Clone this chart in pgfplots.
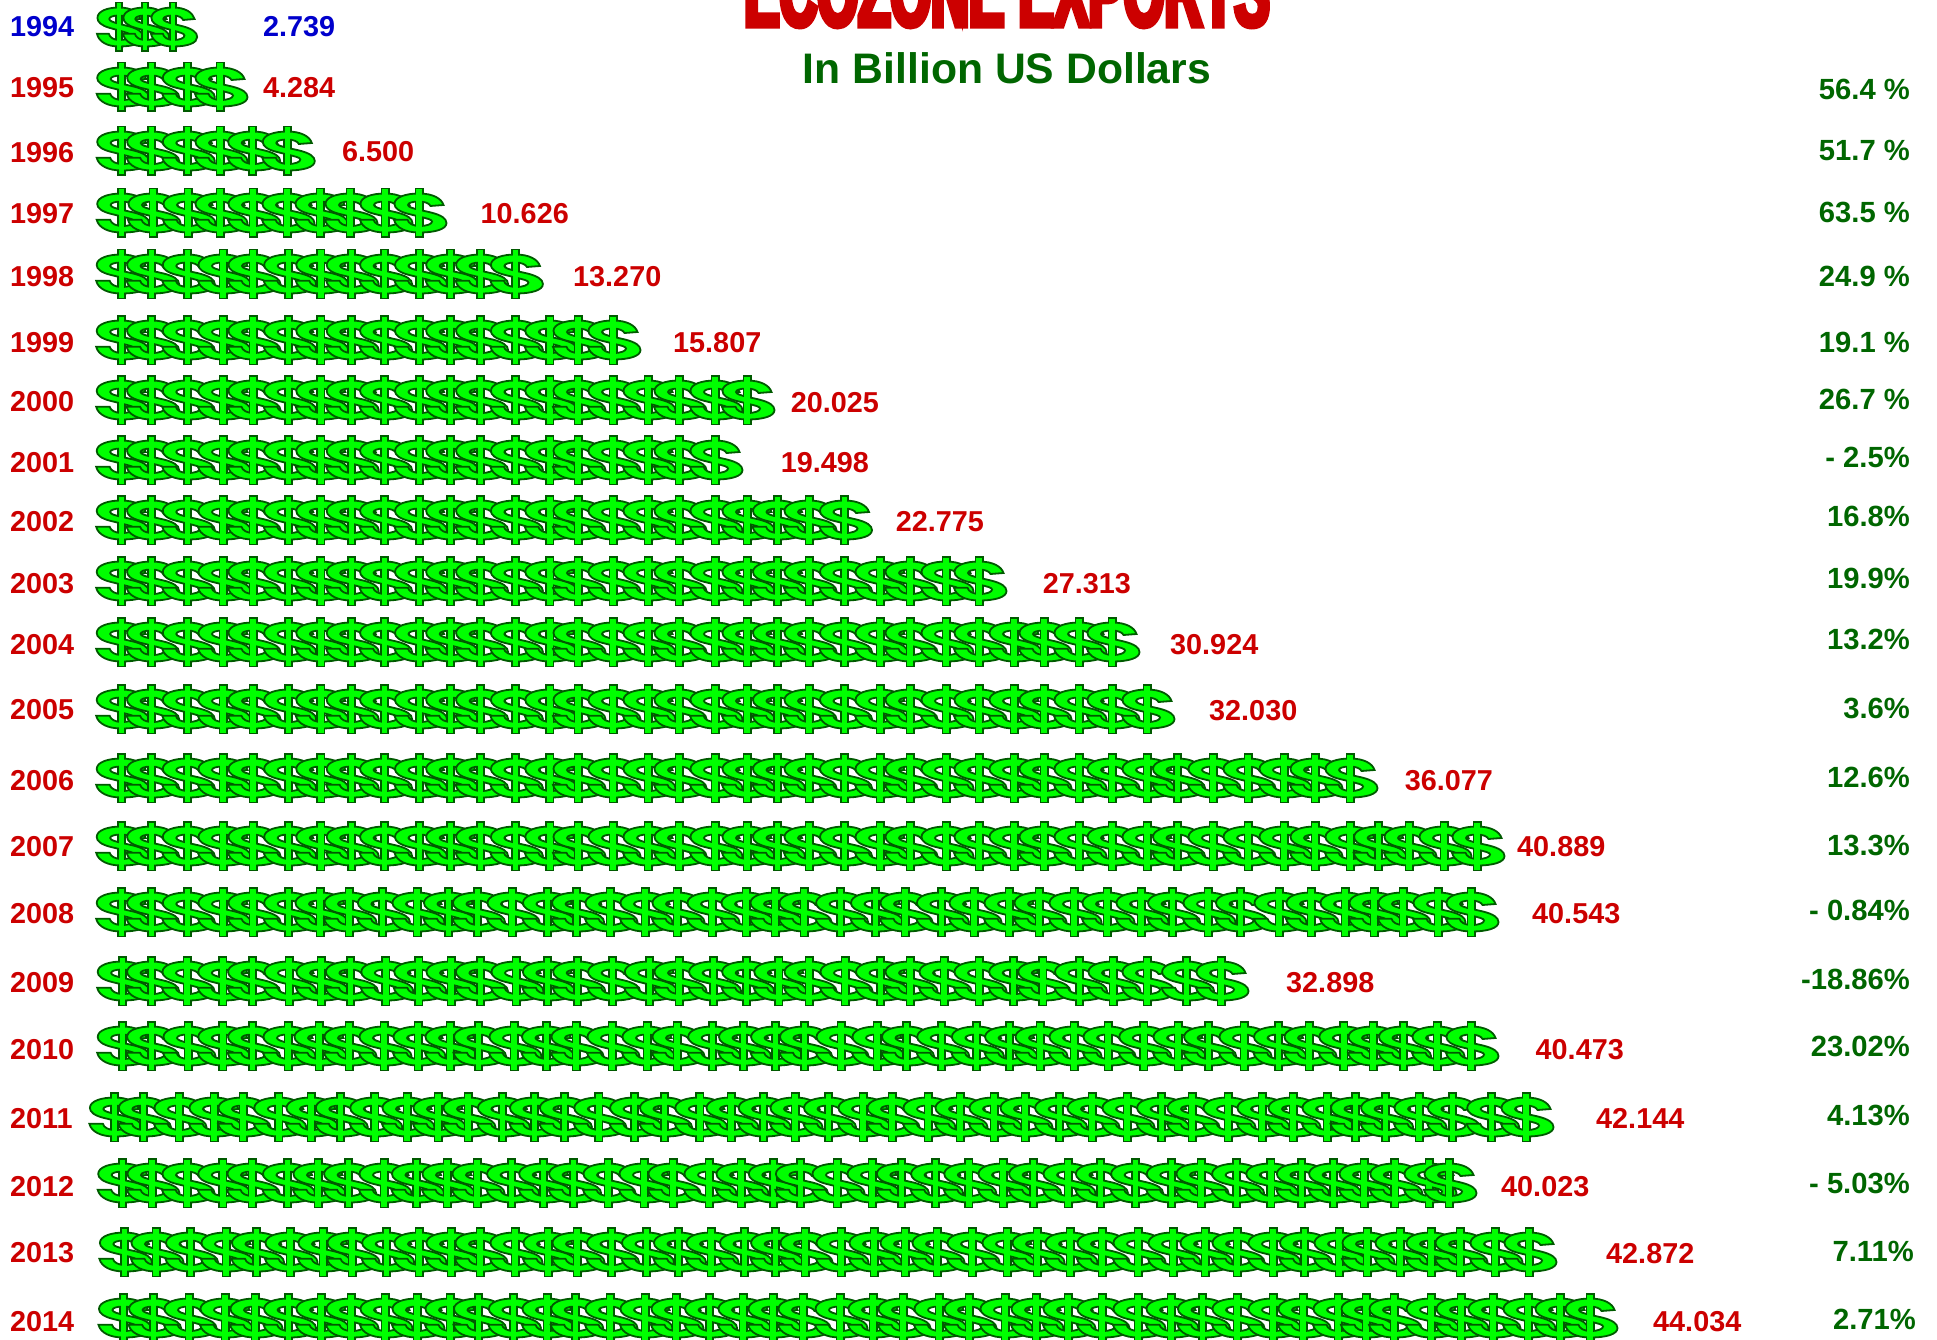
\documentclass[border=0pt]{standalone}
\usepackage{fontspec}
\usepackage{pgfplots}
\pgfplotsset{compat=1.18}
\setmainfont{Liberation Sans}
\newfontfamily\titlefont[FakeBold=5,FakeStretch=0.525]{Liberation Sans Bold}
\definecolor{rd}{RGB}{204,0,0}
\definecolor{bl}{RGB}{0,0,204}
\definecolor{dg}{RGB}{0,102,0}
\definecolor{og}{RGB}{0,90,0}
\definecolor{lg}{RGB}{0,255,0}
\def\dM(#1,#2){\pgfpathmoveto{\pgfqpoint{#1pt}{#2pt}}}
\def\dL(#1,#2){\pgfpathlineto{\pgfqpoint{#1pt}{#2pt}}}
\def\dC(#1,#2)(#3,#4)(#5,#6){\pgfpathcurveto{\pgfqpoint{#1pt}{#2pt}}{\pgfqpoint{#3pt}{#4pt}}{\pgfqpoint{#5pt}{#6pt}}}
\pgfdeclareplotmark{dollar}{%
  \pgfpathrectangle{\pgfqpoint{-3.6pt}{-24.4pt}}{\pgfqpoint{7.2pt}{48.8pt}}%
  \pgfusepathqfillstroke
  \dM(0,19.5)
  \dC(14,19.5)(22.5,14.5)(24.5,8)
  \dL(11.5,7)
  \dC(10.5,9.5)(6,11.5)(0,11.5)
  \dC(-7,11.5)(-11,10)(-11,8)
  \dC(-11,6)(-6,4.5)(1,3)
  \dL(12,0.5)
  \dC(22,-2)(27.5,-5.5)(27.5,-10)
  \dC(27.5,-16)(17,-19.5)(0,-19.5)
  \dC(-13,-19.5)(-23,-15)(-25,-6.8)
  \dL(-11.5,-6.8)
  \dC(-10.5,-10.5)(-6,-13)(0.5,-13)
  \dC(8,-13)(13,-11)(13,-8.5)
  \dC(13,-6.5)(8,-5.5)(0,-3.5)
  \dL(-11,-0.8)
  \dC(-20,1.5)(-24.5,5)(-24.5,9)
  \dC(-24.5,16)(-13,19.5)(0,19.5)
  \pgfpathclose
  \pgfusepathqfillstroke
  \pgfpathrectangle{\pgfqpoint{-2.7pt}{-23.5pt}}{\pgfqpoint{5.4pt}{47pt}}%
  \pgfusepathqfill
}
\pgfplotsset{dollars/.style={only marks,mark=dollar,
  mark options={draw=og,fill=lg,line width=1.8pt,solid}}}
\newcommand\yr[3][rd]{\node[anchor=base west,inner sep=0pt,text=#1,font=\fontsize{28.8}{30}\selectfont\bfseries] at (axis cs:10,#3) {#2};}
\newcommand\val[4][rd]{\node[anchor=base west,inner sep=0pt,text=#1,font=\fontsize{28.8}{30}\selectfont\bfseries] at (axis cs:#3,#4) {#2};}
\newcommand\pc[3][1910]{\node[anchor=base east,inner sep=0pt,text=dg,font=\fontsize{29.2}{30}\selectfont\bfseries] at (axis cs:#1,#3) {#2};}
\begin{document}
\begin{tikzpicture}[x=1pt,y=1pt]
\useasboundingbox (0,0) rectangle (1937,1340);
\clip (0,0) rectangle (1937,1340);
\begin{axis}[at={(0,0)},anchor=south west,width=1937pt,height=1340pt,scale only axis,
  xmin=0,xmax=1937,ymin=0,ymax=1340,y dir=reverse,hide axis,clip=false]
% 1994
\addplot[dollars,mark options={draw=og,fill=lg,line width=1.8pt,solid,xscale=0.88}] coordinates {(119,27)(145,27)(173,27)};
% 1995
\addplot[dollars] coordinates {(121.7,87)(151.7,87)(187.3,87)(220,87)};
% 1996
\addplot[dollars] coordinates {(121.7,151)(151.7,151)(187.3,151)(220,151)(252.7,151)(287.3,151)};
% 1997
\addplot[dollars] coordinates {(121.7,213)(153,213)(188,213)(220,213)(253,213)(287,213)(320,213)(350,213)(385,213)(419,213)};
% 1998
\addplot[dollars] coordinates {(121.2,274)(151.6,274)(187.3,274)(223,274)(253,274)(288.7,274)(320.8,274)(351.2,274)(384.6,274)(419.5,274)(450.7,274)(480.6,274)(515.4,274)};
% 1999
\addplot[dollars] coordinates {(121.2,340)(151.6,340)(187.3,340)(223,340)(253,340)(288.7,340)(320.8,340)(351.2,340)(384.6,340)(419.5,340)(450.7,340)(480.6,340)(515.4,340)(549.8,340)(578,340)(613,340)};
% 2000
\addplot[dollars] coordinates {(121.2,400)(151.6,400)(187.3,400)(223,400)(253,400)(288.7,400)(320.8,400)(351.2,400)(384.6,400)(419.5,400)(450.7,400)(480.6,400)(515.4,400)(549.8,400)(578,400)(613,400)(648,400)(679,400)(715,400)(747,400)};
% 2001
\addplot[dollars] coordinates {(121.2,460)(151.6,460)(187.3,460)(223,460)(253,460)(288.7,460)(320.8,460)(351.2,460)(384.6,460)(419.5,460)(450.7,460)(480.6,460)(515.4,460)(549.8,460)(578,460)(613,460)(648,460)(679,460)(715,460)};
% 2002
\addplot[dollars] coordinates {(121.2,520)(151.6,520)(187.3,520)(223,520)(253,520)(288.7,520)(320.8,520)(351.2,520)(384.6,520)(419.5,520)(450.7,520)(480.6,520)(515.4,520)(549.8,520)(578,520)(613,520)(648,520)(679,520)(715,520)(747,520)(777.5,520)(809,520)(844.5,520)};
% 2003
\addplot[dollars] coordinates {(121.2,581)(151.6,581)(187.3,581)(223,581)(253,581)(288.7,581)(320.8,581)(351.2,581)(384.6,581)(419.5,581)(450.7,581)(480.6,581)(515.4,581)(549.8,581)(578,581)(613,581)(648,581)(679,581)(715,581)(747,581)(777.5,581)(809,581)(844.5,581)(880,581)(910,581)(946,581)(979,581)};
% 2004
\addplot[dollars] coordinates {(121.2,642)(151.6,642)(187.3,642)(223,642)(253,642)(288.7,642)(320.8,642)(351.2,642)(384.6,642)(419.5,642)(450.7,642)(480.6,642)(515.4,642)(549.8,642)(578,642)(613,642)(648,642)(679,642)(715,642)(747,642)(777.5,642)(809,642)(844.5,642)(880,642)(910,642)(946,642)(979,642)(1014,642)(1044,642)(1079,642)(1112,642)};
% 2005
\addplot[dollars] coordinates {(121.2,709)(151.6,709)(187.3,709)(223,709)(253,709)(288.7,709)(320.8,709)(351.2,709)(384.6,709)(419.5,709)(450.7,709)(480.6,709)(515.4,709)(549.8,709)(578,709)(613,709)(648,709)(679,709)(715,709)(747,709)(777.5,709)(809,709)(844.5,709)(880,709)(910,709)(946,709)(979,709)(1014,709)(1044,709)(1079,709)(1112,709)(1147,709)};
% 2006
\addplot[dollars] coordinates {(121.2,778)(151.6,778)(187.3,778)(223,778)(253,778)(288.7,778)(320.8,778)(351.2,778)(384.6,778)(419.5,778)(450.7,778)(480.6,778)(515.4,778)(549.8,778)(578,778)(613,778)(648,778)(679,778)(715,778)(747,778)(777.5,778)(809,778)(844.5,778)(880,778)(910,778)(946,778)(979,778)(1014,778)(1044,778)(1079,778)(1112,778)(1147,778)(1177.5,778)(1213,778)(1248,778)(1284,778)(1315,778)(1350,778)};
% 2007
\addplot[dollars] coordinates {(121.2,846)(151.6,846)(187.3,846)(223,846)(253,846)(288.7,846)(320.8,846)(351.2,846)(384.6,846)(419.5,846)(450.7,846)(480.6,846)(515.4,846)(549.8,846)(578,846)(613,846)(648,846)(679,846)(715,846)(747,846)(777.5,846)(809,846)(844.5,846)(880,846)(910,846)(946,846)(979,846)(1014,846)(1044,846)(1079,846)(1112,846)(1147,846)(1177.5,846)(1213,846)(1248,846)(1284,846)(1315,846)(1350,846)(1378.6,846)(1409,846)(1444,846)(1477,846)};
% 2008
\addplot[dollars] coordinates {(121.2,912)(151.6,912)(187.3,912)(223,912)(253,912)(288.7,912)(320,912)(349,912)(382.4,912)(417,912)(448.5,912)(477.5,912)(512,912)(547.5,912)(576.6,912)(610,912)(645,912)(677,912)(712,912)(746,912)(775,912)(804,912)(840.6,912)(875.5,912)(905,912)(941.4,912)(974,912)(1009,912)(1039,912)(1074,912)(1107,912)(1141,912)(1172.6,912)(1208,912)(1240.5,912)(1279,912)(1311,912)(1345,912)(1374,912)(1403,912)(1438,912)(1471,912)};
% 2009
\addplot[dollars] coordinates {(122.2,981)(151.6,981)(187,981)(222.8,981)(252.6,981)(289,981)(321,981)(350.4,981)(385.8,981)(418.8,981)(451,981)(480.4,981)(516,981)(547.4,981)(577.7,981)(612.6,981)(649.3,981)(679,981)(713.6,981)(746.7,981)(778.8,981)(809,981)(845,981)(880.5,981)(910,981)(944,981)(979,981)(1013.7,981)(1042.8,981)(1079.5,981)(1113,981)(1147,981)(1186.6,981)(1221,981)};
% 2010
\addplot[dollars] coordinates {(122.2,1046)(151.6,1046)(188,1046)(222.8,1046)(252.6,1046)(288,1046)(319,1046)(349,1046)(384,1046)(418,1046)(450,1046)(478.5,1046)(514,1046)(546.5,1046)(576,1046)(612,1046)(647,1046)(677,1046)(712.7,1046)(743.5,1046)(775.6,1046)(804.5,1046)(841,1046)(877,1046)(906.5,1046)(941.7,1046)(976.4,1046)(1009.6,1046)(1040,1046)(1074,1046)(1108,1046)(1143.8,1046)(1178,1046)(1208.6,1046)(1244,1046)(1278.5,1046)(1309,1046)(1343.8,1046)(1373,1046)(1403.5,1046)(1437,1046)(1471,1046)};
% 2011
\addplot[dollars] coordinates {(114.4,1117)(143.4,1117)(179,1117)(214,1117)(243,1117)(278.8,1117)(311,1117)(340.3,1117)(374.8,1117)(407,1117)(438,1117)(468,1117)(502.4,1117)(534.5,1117)(564.4,1117)(598.8,1117)(634.6,1117)(664.5,1117)(699.8,1117)(731,1117)(763.2,1117)(795,1117)(828.5,1117)(863,1117)(892,1117)(928,1117)(960,1117)(994,1117)(1025,1117)(1059.6,1117)(1092,1117)(1127,1117)(1161.6,1117)(1192,1117)(1228,1117)(1262,1117)(1293,1117)(1327,1117)(1355.5,1117)(1385.6,1117)(1419,1117)(1452.4,1117)(1491.7,1117)(1526,1117)};
% 2012
\addplot[dollars] coordinates {(122.7,1183)(152,1183)(187,1183)(222.8,1183)(252,1183)(287.5,1183)(318,1183)(348.6,1183)(384,1183)(416.5,1183)(447,1183)(477,1183)(511.6,1183)(543.7,1183)(573.6,1183)(608,1183)(644,1183)(673,1183)(709,1183)(741,1183)(773.3,1183)(800.4,1183)(837,1183)(872,1183)(901.4,1183)(935.6,1183)(968.8,1183)(1003,1183)(1033.6,1183)(1068,1183)(1100.4,1183)(1135.6,1183)(1171.3,1183)(1201,1183)(1236.6,1183)(1270.8,1183)(1301.4,1183)(1333.6,1183)(1364,1183)(1394.8,1183)(1429,1183)(1449,1183)};
% 2013
\addplot[dollars] coordinates {(124.4,1252)(156,1252)(190.5,1252)(226,1252)(256.5,1252)(290,1252)(323,1252)(352,1252)(386.7,1252)(419,1252)(451,1252)(480,1252)(515,1252)(548,1252)(577,1252)(611.5,1252)(646.5,1252)(678.5,1252)(711,1252)(744.5,1252)(775.6,1252)(805,1252)(841,1252)(874,1252)(905,1252)(937,1252)(972,1252)(1007,1252)(1037,1252)(1070,1252)(1102,1252)(1138,1252)(1173,1252)(1205,1252)(1237,1252)(1273,1252)(1304.5,1252)(1339,1252)(1367,1252)(1400,1252)(1431,1252)(1460,1252)(1495,1252)(1529,1252)};
% 2014
\addplot[dollars] coordinates {(123.5,1318)(153.6,1318)(189,1318)(225,1318)(255,1318)(288.6,1318)(321,1318)(351,1318)(385,1318)(417,1318)(450,1318)(478.5,1318)(513.4,1318)(547,1318)(575.7,1318)(610,1318)(645,1318)(676,1318)(709.6,1318)(743,1318)(773,1318)(803,1318)(840,1318)(873,1318)(903,1318)(939,1318)(969,1318)(1005,1318)(1036,1318)(1068,1318)(1102,1318)(1138,1318)(1171,1318)(1202.5,1318)(1237,1318)(1273,1318)(1303,1318)(1338,1318)(1366,1318)(1394,1318)(1431,1318)(1461,1318)(1493,1318)(1528,1318)(1560,1318)(1590,1318)};
% titles
\node[anchor=base,inner sep=0pt,text=rd,font=\fontsize{100}{104}\titlefont] at (axis cs:1007,26) {ECOZONE EXPORTS};
\node[anchor=base,inner sep=0pt,text=dg,font=\fontsize{42.7}{46}\selectfont\bfseries] at (axis cs:1007,84) {In Billion US Dollars};
% years
\yr[bl]{1994}{37}
\yr{1995}{98}
\yr{1996}{163}
\yr{1997}{224}
\yr{1998}{287}
\yr{1999}{352}
\yr{2000}{411}
\yr{2001}{472}
\yr{2002}{531}
\yr{2003}{593}
\yr{2004}{654}
\yr{2005}{719}
\yr{2006}{790}
\yr{2007}{856}
\yr{2008}{923}
\yr{2009}{992}
\yr{2010}{1059}
\yr{2011}{1128}
\yr{2012}{1196}
\yr{2013}{1262}
\yr{2014}{1331}
% values
\val[bl]{2.739}{263}{37}
\val{4.284}{263}{98}
\val{6.500}{342}{162}
\val{10.626}{480.5}{224}
\val{13.270}{573}{287}
\val{15.807}{673}{352}
\val{20.025}{790.6}{412}
\val{19.498}{780.7}{472}
\val{22.775}{895.6}{531}
\val{27.313}{1042.6}{593}
\val{30.924}{1170}{654}
\val{32.030}{1209}{720}
\val{36.077}{1404.6}{790}
\val{40.889}{1517}{856}
\val{40.543}{1532}{923}
\val{32.898}{1286}{992}
\val{40.473}{1535.5}{1059}
\val{42.144}{1596}{1128}
\val{40.023}{1501}{1196}
\val{42.872}{1606}{1263}
\val{44.034}{1653}{1331}
% changes
\pc{56.4 \%}{100}
\pc{51.7 \%}{161}
\pc{63.5 \%}{223}
\pc{24.9 \%}{287}
\pc{19.1 \%}{352}
\pc{26.7 \%}{409}
\pc{- 2.5\%}{467}
\pc{16.8\%}{526}
\pc{19.9\%}{588}
\pc{13.2\%}{649}
\pc{3.6\%}{718}
\pc{12.6\%}{787}
\pc{13.3\%}{855}
\pc{- 0.84\%}{920}
\pc{-18.86\%}{989}
\pc{23.02\%}{1056}
\pc{4.13\%}{1125}
\pc{- 5.03\%}{1193}
\pc[1914]{7.11\%}{1261}
\pc[1916]{2.71\%}{1329}
\end{axis}
\end{tikzpicture}
\end{document}
